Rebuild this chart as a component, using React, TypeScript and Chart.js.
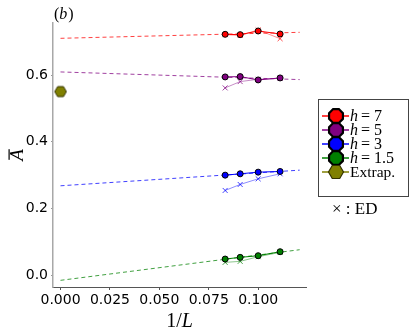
import React, { useEffect, useRef } from 'react';
import { Chart, registerables } from 'chart.js';
Chart.register(...registerables);

const invL = [0.0833, 0.0909, 0.1, 0.1111];
const h7Sim = [0.723, 0.722, 0.733, 0.724];
const h7ED = [0.722, 0.72, 0.736, 0.71];
const h7Fit = [0.711, 0.729];
const h5Sim = [0.595, 0.596, 0.586, 0.592];
const h5ED = [0.562, 0.581, 0.588, 0.591];
const h5Fit = [0.61, 0.587];
const h3Sim = [0.3, 0.304, 0.309, 0.311];
const h3ED = [0.254, 0.272, 0.289, 0.304];
const h3Fit = [0.268, 0.315];
const h15Sim = [0.048, 0.053, 0.058, 0.07];
const h15ED = [0.038, 0.041, 0.055, 0.068];
const h15Fit = [-0.016, 0.076];
const fitX = [0, 0.121];
const extrapX = [0];
const extrapY = [0.551];
const xTicks = [0, 0.025, 0.05, 0.075, 0.1];
const yTicks = [0, 0.2, 0.4, 0.6];
const hValues = ['7', '5', '3', '1.5'];
const extrapLabel = 'Extrap.';
const edLabel = '× : ED';
const panelLabel = 'b';

const COLORS = ['#ff0000', '#800080', '#0000ff', '#008000'];
const OLIVE = '#808000';
const RGBA = (hex: string, a: number) => {
  const r = parseInt(hex.slice(1, 3), 16), g = parseInt(hex.slice(3, 5), 16), b = parseInt(hex.slice(5, 7), 16);
  return `rgba(${r},${g},${b},${a})`;
};

function polygon(ctx: CanvasRenderingContext2D, cx: number, cy: number, r: number, n: number, rot: number) {
  ctx.beginPath();
  for (let i = 0; i < n; i++) {
    const a = rot + (i * 2 * Math.PI) / n;
    const px = cx + r * Math.cos(a), py = cy + r * Math.sin(a);
    if (i === 0) ctx.moveTo(px, py); else ctx.lineTo(px, py);
  }
  ctx.closePath();
}

export default function App() {
  const ref = useRef<HTMLCanvasElement>(null);
  useEffect(() => {
    const canvas = ref.current!;
    const hex = document.createElement('canvas');
    hex.width = 14; hex.height = 14;
    const hc = hex.getContext('2d')!;
    polygon(hc, 7, 7, 5.8, 6, 0);
    hc.fillStyle = OLIVE; hc.fill();
    hc.strokeStyle = '#333300'; hc.lineWidth = 1; hc.stroke();

    const sims = [h7Sim, h5Sim, h3Sim, h15Sim];
    const eds = [h7ED, h5ED, h3ED, h15ED];
    const fits = [h7Fit, h5Fit, h3Fit, h15Fit];
    const datasets: any[] = [];
    sims.forEach((s, i) => {
      const c = COLORS[i];
      datasets.push({
        data: s.map((y, k) => ({ x: invL[k], y })),
        showLine: true, borderColor: c, borderWidth: 1,
        pointRadius: 3, pointBackgroundColor: c, pointBorderColor: '#000', pointBorderWidth: 1, order: 1,
      });
      datasets.push({
        data: eds[i].map((y, k) => ({ x: invL[k], y })),
        showLine: true, borderColor: RGBA(c, 0.45), borderWidth: 1,
        pointStyle: 'crossRot', pointRadius: 3.5, pointBorderColor: RGBA(c, 0.75), pointBorderWidth: 1, order: 2,
      });
      datasets.push({
        data: fits[i].map((y, k) => ({ x: fitX[k], y })),
        showLine: true, borderColor: RGBA(c, 0.75), borderWidth: 1, borderDash: [4, 3],
        pointRadius: 0, order: 3,
      });
    });
    datasets.push({
      data: extrapY.map((y, k) => ({ x: extrapX[k], y })),
      showLine: false, pointStyle: hex, pointRadius: 7, order: 0,
    });

    const decor = {
      id: 'decor',
      afterDraw(chart: any) {
        const ctx = chart.ctx as CanvasRenderingContext2D;
        ctx.save();
        ctx.fillStyle = '#000';
        ctx.textBaseline = 'alphabetic';
        // panel label
        ctx.font = '16px "Liberation Serif"';
        let x = 54;
        ctx.fillText('(', x, 19); x += ctx.measureText('(').width;
        ctx.font = 'italic 16px "Liberation Serif"';
        ctx.fillText(panelLabel, x, 19); x += ctx.measureText(panelLabel).width + 1;
        ctx.font = '16px "Liberation Serif"';
        ctx.fillText(')', x, 19);
        // x title
        const xs = chart.scales.x;
        const cx = (xs.left + xs.right) / 2;
        ctx.font = '20px "Liberation Serif"';
        const w1 = ctx.measureText('1/').width;
        ctx.font = 'italic 20px "Liberation Serif"';
        const w2 = ctx.measureText('L').width;
        let sx = cx - (w1 + w2) / 2;
        ctx.font = '20px "Liberation Serif"';
        ctx.fillText('1/', sx, 327);
        ctx.font = 'italic 20px "Liberation Serif"';
        ctx.fillText('L', sx + w1, 327);
        // y title
        const ys = chart.scales.y;
        const cy = (ys.top + ys.bottom) / 2;
        ctx.save();
        ctx.translate(23, cy);
        ctx.rotate(-Math.PI / 2);
        ctx.font = 'italic 19px "Liberation Serif"';
        const aw = ctx.measureText('A').width;
        ctx.fillText('A', -aw / 2, 0);
        ctx.fillRect(-aw / 2 + 1, -14.5, aw - 1, 1.2);
        ctx.restore();
        // legend box
        const bx = 318, by = 99, bw = 90, bh = 97;
        ctx.fillStyle = '#fff';
        ctx.fillRect(bx, by, bw, bh);
        ctx.strokeStyle = '#444'; ctx.lineWidth = 1;
        ctx.strokeRect(bx + 0.5, by + 0.5, bw, bh);
        const rows = [116, 130, 144, 158, 172];
        for (let i = 0; i < 5; i++) {
          const ry = rows[i];
          const col = i < 4 ? COLORS[i] : OLIVE;
          ctx.strokeStyle = col; ctx.lineWidth = 1.5;
          ctx.beginPath(); ctx.moveTo(322, ry); ctx.lineTo(349, ry); ctx.stroke();
          if (i < 4) {
            polygon(ctx, 336, ry, 7.5, 8, Math.PI / 8);
            ctx.fillStyle = col; ctx.fill();
            ctx.strokeStyle = '#000'; ctx.lineWidth = 2.2; ctx.stroke();
          } else {
            polygon(ctx, 336, ry, 7.5, 6, 0);
            ctx.fillStyle = OLIVE; ctx.fill();
            ctx.strokeStyle = '#333300'; ctx.lineWidth = 1.2; ctx.stroke();
          }
          ctx.fillStyle = '#000';
          if (i < 4) {
            ctx.font = 'italic 16px "Liberation Serif"';
            ctx.fillText('h', 350, ry + 5);
            ctx.font = '16px "Liberation Serif"';
            ctx.fillText('=', 361, ry + 5);
            ctx.fillText(hValues[i], 374, ry + 5);
          } else {
            ctx.font = '15.5px "Liberation Serif"';
            ctx.fillText(extrapLabel, 350, ry + 5);
          }
        }
        ctx.font = '17px "Liberation Serif"';
        ctx.fillStyle = '#000';
        ctx.fillText(edLabel, 332, 214);
        ctx.restore();
      },
    };

    const chart = new Chart(canvas, {
      type: 'scatter',
      data: { datasets },
      plugins: [decor],
      options: {
        animation: false,
        responsive: false,
        layout: { padding: { top: 23, right: 109, left: 0, bottom: 0 } },
        plugins: { legend: { display: false }, tooltip: { enabled: false } },
        scales: {
          x: {
            type: 'linear', min: -0.0038, max: 0.1242,
            afterFit: (s: any) => { s.height = 45; },
            afterBuildTicks: (s: any) => { s.ticks = xTicks.map((v) => ({ value: v })); },
            grid: { drawOnChartArea: false, drawTicks: true, tickLength: 3, color: '#555' },
            border: { color: '#555', width: 1 },
            ticks: { color: '#000', padding: 2, font: { family: 'DejaVu Sans', size: 14 }, callback: (v: any) => Number(v).toFixed(3), maxRotation: 0 },
          },
          y: {
            type: 'linear', min: -0.036, max: 0.757,
            afterFit: (s: any) => { s.width = 53; },
            afterBuildTicks: (s: any) => { s.ticks = yTicks.map((v) => ({ value: v })); },
            grid: { drawOnChartArea: false, drawTicks: true, tickLength: 2, color: '#999' },
            border: { color: '#a8a8a8', width: 1.5 },
            ticks: { color: '#000', padding: 3, font: { family: 'DejaVu Sans', size: 14 }, callback: (v: any) => Number(v).toFixed(1) },
          },
        },
      } as any,
    });
    return () => chart.destroy();
  }, []);
  return (
    <div style={{ position: 'absolute', left: 0, top: 0, width: 415, height: 332, background: '#fff' }}>
      <canvas ref={ref} width={415} height={332} style={{ display: 'block' }} />
    </div>
  );
}
